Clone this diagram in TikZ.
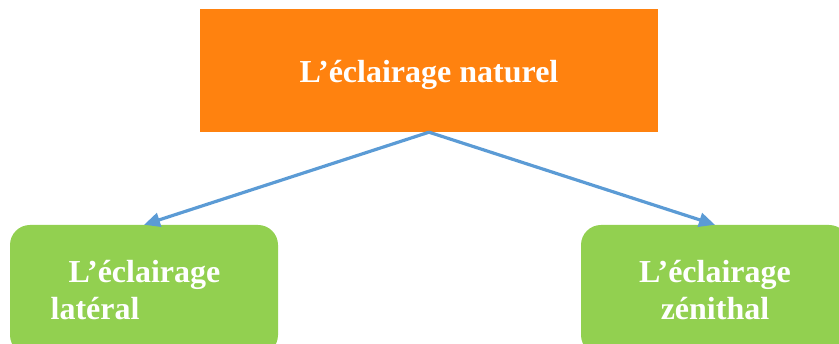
\documentclass[tikz,border=0pt]{standalone}
\usepackage{fontspec}
\setmainfont{Liberation Serif}
\usetikzlibrary{arrows.meta}
\definecolor{boxorange}{RGB}{255,130,15}
\definecolor{boxgreen}{RGB}{146,208,80}
\definecolor{linkblue}{RGB}{91,155,213}

\begin{document}
\begin{tikzpicture}[x=1pt, y=-1pt,
            % ----- Styles -----
                topbox/.style={
                    rectangle, fill=boxorange, inner sep=0pt,
                    minimum width=458pt, minimum height=123pt,
                    text height=32pt, text depth=7pt,
                    text=white, font=\fontsize{32}{37}\selectfont\bfseries
                },
                subbox/.style={
                    rectangle, rounded corners=20pt, fill=boxgreen, inner sep=0pt,
                    minimum width=268pt, minimum height=130pt,
                    text=white, font=\fontsize{32}{37}\selectfont\bfseries
                },
                link/.style={-{Triangle[length=16pt, width=14pt]}, line width=3.2pt, draw=linkblue}
            ]

% ===================== Bildrahmen ==============================
                \useasboundingbox (0,0) rectangle (839,344);

% ===================== Kaesten =================================
                \node[topbox] (nat) at (429, 70.5) {L’éclairage naturel};

                \node[subbox, align=left]   (lat) at (144, 290)
                    {\hspace*{18pt}L’éclairage\hspace*{17pt}\\latéral};
                \node[subbox, align=center] (zen) at (715, 290)
                    {L’éclairage\\zénithal};

% ===================== Pfeile ==================================
                \draw[link] (nat.south) -- (lat.north);
                \draw[link] (nat.south) -- (zen.north);

\end{tikzpicture}
\end{document}
